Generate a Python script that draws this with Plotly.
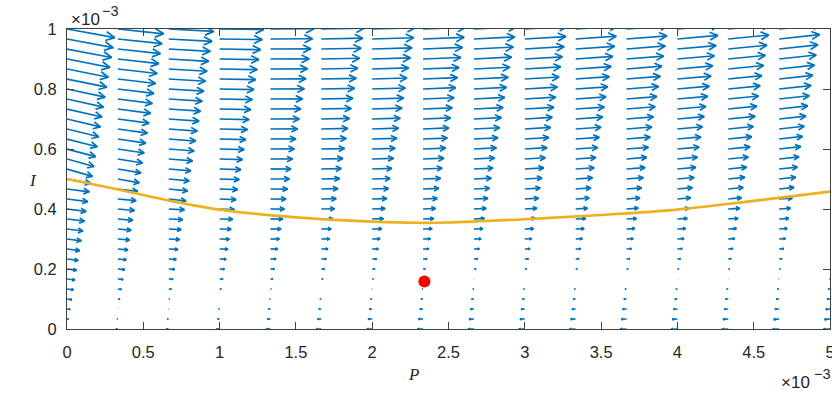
import numpy as np
import plotly.graph_objects as go

# ---------------- data (P and I in units of 1e-3) ----------------
P_values = [0, 0.3333, 0.6667, 1.0, 1.3333, 1.6667, 2.0, 2.3333, 2.6667, 3.0,
            3.3333, 3.6667, 4.0, 4.3333, 4.6667, 5.0]
I_values = [0, 0.0333, 0.0667, 0.1, 0.1333, 0.1667, 0.2, 0.2333, 0.2667, 0.3,
            0.3333, 0.3667, 0.4, 0.4333, 0.4667, 0.5, 0.5333, 0.5667, 0.6, 0.6333,
            0.6667, 0.7, 0.7333, 0.7667, 0.8, 0.8333, 0.8667, 0.9, 0.9333, 0.9667, 1.0]

# dP/dt per column (P value), rows from I=0 to I=1 (estimated, arbitrary units)
dPdt = [
 [0, 1.6, 3.1, 4.7, 6.3, 7.8, 9.4, 11.0, 12.5, 14.1, 15.7, 17.2, 18.8, 20.4, 21.9, 23.5, 25.1, 26.6, 28.2, 29.8, 31.3, 32.9, 34.5, 36.0, 37.6, 39.2, 40.7, 42.3, 43.9, 45.4, 47.0],
 [-1.8, -0.8, 0.3, 1.9, 3.5, 5.1, 6.7, 8.3, 9.9, 11.5, 13.1, 14.7, 16.3, 17.9, 19.5, 21.1, 22.7, 24.3, 25.9, 27.5, 29.1, 30.7, 32.3, 33.9, 35.5, 37.1, 38.7, 40.3, 41.9, 43.5, 45.1],
 [-2.4, -1.4, -0.4, 1.0, 2.6, 4.2, 5.8, 7.4, 9.0, 10.6, 12.2, 13.8, 15.4, 17.0, 18.6, 20.2, 21.8, 23.4, 25.0, 26.6, 28.2, 29.8, 31.4, 33.0, 34.6, 36.2, 37.8, 39.4, 41.0, 42.6, 44.2],
 [-3.0, -2.0, -1.0, 0.0, 1.6, 3.2, 4.8, 6.4, 8.1, 9.7, 11.3, 12.9, 14.5, 16.1, 17.7, 19.3, 20.9, 22.5, 24.1, 25.8, 27.4, 29.0, 30.6, 32.2, 33.8, 35.4, 37.0, 38.6, 40.2, 41.9, 43.5],
 [-4.3, -3.1, -1.9, -0.7, 0.7, 2.3, 3.9, 5.5, 7.2, 8.8, 10.4, 12.1, 13.7, 15.3, 16.9, 18.6, 20.2, 21.8, 23.5, 25.1, 26.7, 28.4, 30.0, 31.6, 33.3, 34.9, 36.5, 38.1, 39.8, 41.4, 43.0],
 [-4.9, -3.7, -2.5, -1.3, -0.1, 1.6, 3.2, 4.8, 6.4, 8.1, 9.7, 11.4, 13.0, 14.6, 16.3, 17.9, 19.5, 21.2, 22.8, 24.5, 26.1, 27.7, 29.4, 31.0, 32.7, 34.3, 35.9, 37.6, 39.2, 40.8, 42.5],
 [-5.2, -4.0, -2.8, -1.6, -0.4, 1.1, 2.7, 4.4, 6.0, 7.7, 9.4, 11.0, 12.7, 14.3, 16.0, 17.6, 19.3, 21.0, 22.6, 24.3, 25.9, 27.6, 29.3, 30.9, 32.6, 34.2, 35.9, 37.6, 39.2, 40.9, 42.5],
 [-5.6, -4.4, -3.2, -2.0, -0.8, 0.6, 2.2, 3.9, 5.6, 7.2, 8.9, 10.5, 12.2, 13.9, 15.5, 17.2, 18.8, 20.5, 22.2, 23.8, 25.5, 27.1, 28.8, 30.5, 32.1, 33.8, 35.4, 37.1, 38.8, 40.4, 42.1],
 [-5.8, -4.6, -3.4, -2.2, -1.0, 0.3, 2.0, 3.7, 5.3, 7.0, 8.7, 10.3, 12.0, 13.7, 15.3, 17.0, 18.7, 20.3, 22.0, 23.7, 25.3, 27.0, 28.7, 30.3, 32.0, 33.7, 35.3, 37.0, 38.7, 40.3, 42.0],
 [-5.9, -4.7, -3.5, -2.3, -1.1, 0.1, 1.8, 3.5, 5.1, 6.8, 8.5, 10.2, 11.9, 13.5, 15.2, 16.9, 18.6, 20.2, 21.9, 23.6, 25.3, 27.0, 28.6, 30.3, 32.0, 33.7, 35.3, 37.0, 38.7, 40.4, 42.0],
 [-6.0, -4.8, -3.6, -2.4, -1.2, 0.0, 1.6, 3.3, 4.9, 6.6, 8.3, 9.9, 11.6, 13.3, 14.9, 16.6, 18.2, 19.9, 21.6, 23.2, 24.9, 26.6, 28.2, 29.9, 31.6, 33.2, 34.9, 36.5, 38.2, 39.9, 41.5],
 [-6.2, -5.0, -3.8, -2.6, -1.4, -0.1, 1.5, 3.1, 4.8, 6.5, 8.1, 9.8, 11.5, 13.2, 14.8, 16.5, 18.2, 19.8, 21.5, 23.2, 24.8, 26.5, 28.2, 29.8, 31.5, 33.2, 34.8, 36.5, 38.2, 39.8, 41.5],
 [-6.2, -5.0, -3.8, -2.6, -1.4, -0.2, 1.4, 3.0, 4.7, 6.4, 8.0, 9.7, 11.4, 13.0, 14.7, 16.4, 18.1, 19.7, 21.4, 23.1, 24.7, 26.4, 28.1, 29.8, 31.4, 33.1, 34.8, 36.4, 38.1, 39.8, 41.5],
 [-6.3, -5.1, -3.9, -2.7, -1.5, -0.3, 1.3, 2.9, 4.6, 6.3, 8.0, 9.6, 11.3, 13.0, 14.7, 16.3, 18.0, 19.7, 21.4, 23.1, 24.7, 26.4, 28.1, 29.8, 31.4, 33.1, 34.8, 36.5, 38.1, 39.8, 41.5],
 [-6.4, -5.2, -4.0, -2.8, -1.6, -0.4, 1.1, 2.8, 4.5, 6.2, 7.9, 9.5, 11.2, 12.9, 14.6, 16.3, 18.0, 19.6, 21.3, 23.0, 24.7, 26.4, 28.1, 29.7, 31.4, 33.1, 34.8, 36.5, 38.2, 39.8, 41.5],
 [-6.5, -5.3, -4.1, -2.9, -1.7, -0.5, 1.0, 2.7, 4.4, 6.1, 7.8, 9.4, 11.1, 12.8, 14.5, 16.2, 17.9, 19.6, 21.3, 22.9, 24.6, 26.3, 28.0, 29.7, 31.4, 33.1, 34.8, 36.4, 38.1, 39.8, 41.5],
]

# dI/dt per column (same arbitrary units), rows from I=0 to I=1
dIdt = [
 [0, -0.1, -0.2, -0.3, -0.4, -0.5, -0.6, -0.7, -0.8, -0.9, -1.0, -1.1, -1.2, -1.35, -1.4, -2.2, -3.7, -3.75, -3.8, -3.85, -3.9, -3.95, -4.0, -4.05, -4.1, -4.1, -4.15, -4.2, -4.25, -4.3, -4.35],
 [0.1, 0.0, 0.0, -0.1, -0.15, -0.2, -0.3, -0.4, -0.45, -0.5, -0.6, -0.65, -0.75, -0.8, -1.15, -1.9, -1.95, -2.0, -2.0, -2.05, -2.1, -2.1, -2.15, -2.2, -2.2, -2.25, -2.25, -2.3, -2.35, -2.35, -2.4],
 [0.06, 0.03, 0.01, -0.03, -0.07, -0.1, -0.15, -0.2, -0.22, -0.27, -0.3, -0.35, -0.4, -0.92, -0.94, -0.95, -0.97, -0.99, -1.0, -1.02, -1.03, -1.05, -1.07, -1.08, -1.1, -1.11, -1.13, -1.15, -1.16, -1.18, -1.19],
 [0.03, 0.02, 0.01, 0, -0.02, -0.03, -0.05, -0.06, -0.08, -0.1, -0.11, -0.13, -0.3, -0.3, -0.3, -0.3, -0.3, -0.3, -0.3, -0.3, -0.3, -0.3, -0.3, -0.3, -0.3, -0.3, -0.3, -0.3, -0.3, -0.3, -0.3],
 [0, 0, 0, 0, 0, 0, 0, 0, 0, 0, 0, 0, -0.03, -0.03, -0.02, -0.01, 0, 0.01, 0.02, 0.03, 0.04, 0.04, 0.05, 0.06, 0.07, 0.08, 0.09, 0.09, 0.1, 0.11, 0.12],
 [-0.03, -0.02, -0.015, -0.008, 0, 0.01, 0.02, 0.03, 0.04, 0.05, 0.06, 0.07, 0.13, 0.15, 0.16, 0.18, 0.2, 0.21, 0.23, 0.25, 0.26, 0.28, 0.29, 0.31, 0.33, 0.34, 0.36, 0.38, 0.39, 0.41, 0.43],
 [-0.05, -0.04, -0.03, -0.01, 0, 0.01, 0.02, 0.04, 0.05, 0.07, 0.08, 0.17, 0.19, 0.21, 0.24, 0.26, 0.29, 0.32, 0.34, 0.36, 0.39, 0.41, 0.44, 0.46, 0.49, 0.51, 0.54, 0.56, 0.59, 0.61, 0.64],
 [-0.07, -0.05, -0.04, -0.02, -0.01, 0.01, 0.03, 0.05, 0.07, 0.09, 0.11, 0.21, 0.24, 0.28, 0.31, 0.34, 0.38, 0.41, 0.44, 0.48, 0.51, 0.54, 0.58, 0.61, 0.64, 0.68, 0.71, 0.74, 0.78, 0.81, 0.84],
 [-0.09, -0.07, -0.05, -0.03, -0.02, 0, 0.03, 0.06, 0.08, 0.11, 0.13, 0.26, 0.3, 0.34, 0.38, 0.43, 0.47, 0.51, 0.55, 0.59, 0.63, 0.68, 0.72, 0.76, 0.8, 0.84, 0.88, 0.93, 0.97, 1.01, 1.05],
 [-0.11, -0.08, -0.06, -0.04, -0.02, 0, 0.03, 0.06, 0.09, 0.12, 0.15, 0.31, 0.36, 0.41, 0.46, 0.51, 0.56, 0.61, 0.66, 0.71, 0.76, 0.81, 0.86, 0.91, 0.96, 1.01, 1.06, 1.11, 1.16, 1.21, 1.26],
 [-0.13, -0.1, -0.08, -0.05, -0.03, 0, 0.03, 0.07, 0.1, 0.14, 0.17, 0.21, 0.41, 0.47, 0.52, 0.58, 0.64, 0.7, 0.76, 0.81, 0.87, 0.93, 0.99, 1.05, 1.11, 1.16, 1.22, 1.28, 1.34, 1.4, 1.45],
 [-0.15, -0.12, -0.09, -0.06, -0.03, 0, 0.04, 0.07, 0.12, 0.16, 0.19, 0.24, 0.46, 0.53, 0.59, 0.66, 0.73, 0.79, 0.86, 0.93, 0.99, 1.06, 1.13, 1.19, 1.26, 1.33, 1.39, 1.46, 1.53, 1.59, 1.66],
 [-0.17, -0.14, -0.1, -0.07, -0.04, -0.01, 0.04, 0.08, 0.13, 0.17, 0.22, 0.26, 0.31, 0.59, 0.66, 0.74, 0.81, 0.89, 0.96, 1.04, 1.11, 1.19, 1.26, 1.34, 1.41, 1.49, 1.57, 1.64, 1.71, 1.79, 1.87],
 [-0.19, -0.15, -0.12, -0.08, -0.05, -0.01, 0.04, 0.09, 0.14, 0.19, 0.24, 0.29, 0.34, 0.65, 0.74, 0.82, 0.9, 0.99, 1.07, 1.16, 1.24, 1.32, 1.41, 1.49, 1.57, 1.66, 1.74, 1.83, 1.91, 1.99, 2.08],
 [-0.21, -0.17, -0.13, -0.09, -0.05, -0.01, 0.04, 0.09, 0.15, 0.2, 0.26, 0.31, 0.37, 0.43, 0.8, 0.9, 0.99, 1.08, 1.17, 1.27, 1.36, 1.45, 1.55, 1.63, 1.73, 1.82, 1.91, 2.01, 2.1, 2.19, 2.28],
 [-0.23, -0.19, -0.15, -0.1, -0.06, -0.02, 0.04, 0.1, 0.16, 0.22, 0.28, 0.34, 0.4, 0.46, 0.87, 0.97, 1.07, 1.18, 1.28, 1.37, 1.48, 1.58, 1.68, 1.78, 1.88, 1.99, 2.09, 2.18, 2.29, 2.39, 2.49],
]

# orange curve (units 1e-3)
curve_P = [0, 0.25, 0.5, 0.75, 1.0, 1.5, 2.0, 2.3, 2.5, 3.0, 3.5, 4.0, 4.5, 5.0]
curve_I = [0.500, 0.474, 0.447, 0.420, 0.398, 0.372, 0.358, 0.354, 0.355, 0.366, 0.380, 0.398, 0.427, 0.458]

# red point
point_P = [2.342]
point_I = [0.158]

x_ticks = [0, 0.5, 1, 1.5, 2, 2.5, 3, 3.5, 4, 4.5, 5]
x_tick_labels = ["0", "0.5", "1", "1.5", "2", "2.5", "3", "3.5", "4", "4.5", "5"]
y_ticks = [0, 0.2, 0.4, 0.6, 0.8, 1.0]
y_tick_labels = ["0", "0.2", "0.4", "0.6", "0.8", "1"]

# ---------------- layout geometry ----------------
W, H = 832, 396
ML, MR, MT, MB = 67, 2, 29, 67
plot_w = W - ML - MR
plot_h = H - MT - MB
x_range = [0, 5]
y_range = [0, 1]
px_per_x = plot_w / (x_range[1] - x_range[0])
px_per_y = plot_h / (y_range[1] - y_range[0])

# ---------------- quiver (MATLAB-like autoscale) ----------------
Pg = np.array(P_values)
Ig = np.array(I_values)
U = np.array(dPdt, dtype=float).T   # rows: I, cols: P
V = np.array(dIdt, dtype=float).T
m, n = U.shape
delx = (Pg.max() - Pg.min()) / n
dely = (Ig.max() - Ig.min()) / m
lens = np.sqrt(U ** 2 + V ** 2) / np.sqrt(delx ** 2 + dely ** 2)
autoscale = 1.0 / lens.max()
Us = U * autoscale
Vs = V * autoscale

qx, qy = [], []
for k in range(m):
    for j in range(n):
        x0, y0 = Pg[j], Ig[k]
        ux, vy = Us[k, j], Vs[k, j]
        px, py = ux * px_per_x, vy * px_per_y
        L = np.hypot(px, py)
        if L < 1e-6:
            continue
        x1, y1 = x0 + ux, y0 + vy
        qx += [x0, x1, None]
        qy += [y0, y1, None]
        h = min(0.33 * L, 3.0 + 0.12 * L)
        w = 0.5 * h
        ex, ey = px / L, py / L
        nx, ny = -ey, ex
        b1x = x1 + (-h * ex + w * nx) / px_per_x
        b1y = y1 + (-h * ey + w * ny) / px_per_y
        b2x = x1 + (-h * ex - w * nx) / px_per_x
        b2y = y1 + (-h * ey - w * ny) / px_per_y
        qx += [b1x, x1, b2x, None]
        qy += [b1y, y1, b2y, None]

fig = go.Figure()
fig.add_trace(go.Scatter(x=qx, y=qy, mode="lines",
                         line=dict(color="#0072BD", width=1.7),
                         hoverinfo="skip", showlegend=False))
fig.add_trace(go.Scatter(x=curve_P, y=curve_I, mode="lines",
                         line=dict(color="#EDB120", width=2.6, shape="spline"),
                         showlegend=False))
fig.add_trace(go.Scatter(x=point_P, y=point_I, mode="markers",
                         marker=dict(color="#FF0000", size=12, line=dict(width=0)),
                         showlegend=False))

axis_color = "#404040"
tick_font = dict(family="Liberation Sans, Arial, sans-serif", size=16.5, color="#262626")
fig.update_xaxes(range=x_range, tickvals=x_ticks, ticktext=x_tick_labels,
                 showgrid=False, zeroline=False, showline=True, mirror="ticks",
                 linecolor=axis_color, linewidth=1, ticks="inside", ticklen=7,
                 tickcolor=axis_color, tickwidth=1, tickfont=tick_font,
                 ticklabelstandoff=8, automargin=False, ticklabeloverflow="allow")
fig.update_yaxes(range=y_range, tickvals=y_ticks, ticktext=y_tick_labels,
                 showgrid=False, zeroline=False, showline=True, mirror="ticks",
                 linecolor=axis_color, linewidth=1, ticks="inside", ticklen=7,
                 tickcolor=axis_color, tickwidth=1, tickfont=tick_font,
                 ticklabelstandoff=6, automargin=False, ticklabeloverflow="allow")

base_font = dict(family="Liberation Sans, Arial, sans-serif", size=17, color="#262626")
exp_font = dict(family="Liberation Sans, Arial, sans-serif", size=14.5, color="#262626")
label_font = dict(family="Liberation Serif, DejaVu Serif, serif", size=17, color="#262626")


def px_to_paper_x(x):
    return (x - ML) / plot_w


def px_to_paper_y(y):
    return (H - MB - y) / plot_h


annotations = [
    dict(text="×10", x=px_to_paper_x(69), y=px_to_paper_y(20),
         xanchor="left", yanchor="middle", font=base_font),
    dict(text="−3", x=px_to_paper_x(100), y=px_to_paper_y(11),
         xanchor="left", yanchor="middle", font=exp_font),
    dict(text="×10", x=px_to_paper_x(812), y=px_to_paper_y(382),
         xanchor="right", yanchor="middle", font=base_font),
    dict(text="−3", x=px_to_paper_x(812), y=px_to_paper_y(374),
         xanchor="left", yanchor="middle", font=exp_font),
    dict(text="<i>P</i>", x=px_to_paper_x(413), y=px_to_paper_y(374),
         xanchor="center", yanchor="middle", font=label_font),
    dict(text="<i>I</i>", x=px_to_paper_x(33), y=px_to_paper_y(180),
         xanchor="center", yanchor="middle", font=label_font),
]
for a in annotations:
    a.update(xref="paper", yref="paper", showarrow=False)

fig.update_layout(width=W, height=H, margin=dict(l=ML, r=MR, t=MT, b=MB, autoexpand=False),
                  paper_bgcolor="white", plot_bgcolor="white",
                  annotations=annotations)

fig.write_html("out.html", config={"displayModeBar": False},
               post_script="document.body.style.margin='0';document.body.style.overflow='hidden';")
